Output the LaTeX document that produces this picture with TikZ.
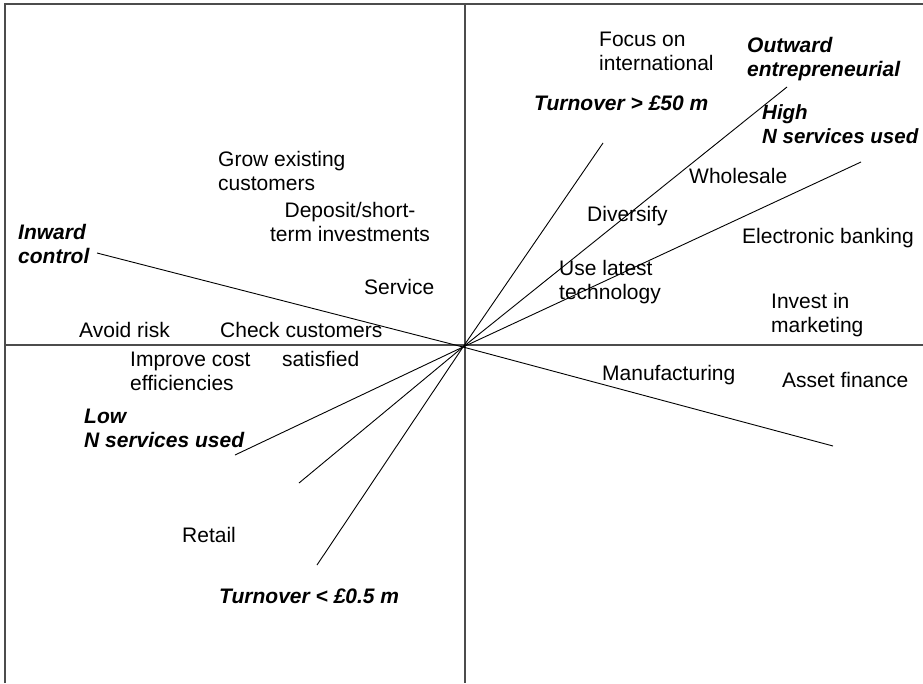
\documentclass[tikz,border=0pt]{standalone}
\usepackage{fontspec}
\setmainfont{Liberation Sans}

\tikzset{
  lbl/.style={anchor=base west, inner sep=0pt, align=left, font=\fontsize{21}{24}\selectfont},
  pole/.style={lbl, font=\fontsize{21}{24}\selectfont\bfseries\itshape},
  axis/.style={draw=black!70, line width=1.4pt},
  ray/.style={draw=black, line width=0.9pt}
}

\begin{document}
\begin{tikzpicture}[x=1pt,y=1pt,yscale=-1]
\useasboundingbox (0,0) rectangle (923,683);

% Frame and axes
\draw[axis] (5,683) -- (5,4) -- (923,4);
\draw[axis] (465,4) -- (465,683);
\draw[axis] (5,345) -- (923,345);

% Origin and ray ends
\coordinate (o) at (463,347);
\coordinate (inw) at (97,253);
\coordinate (manu) at (833,446);
\coordinate (tohi) at (603,143);
\coordinate (outw) at (787,87);
\coordinate (nhi) at (861,162);
\coordinate (nlo) at (235,455);
\coordinate (mid) at (299,483);
\coordinate (tolo) at (317,565);

% Rays
\draw[ray] (o) -- (inw);
\draw[ray] (o) -- (manu);
\draw[ray] (o) -- (tohi);
\draw[ray] (o) -- (outw);
\draw[ray] (o) -- (nhi);
\draw[ray] (o) -- (nlo);
\draw[ray] (o) -- (mid);
\draw[ray] (o) -- (tolo);

% Text Nodes (multi-line ones placed at the last baseline)
\node[lbl] (focus) at (599,70) {Focus on\\international};
\node[pole] (outward) at (747,76) {Outward\\entrepreneurial};
\node[pole] (turnhi) at (534,110) {Turnover > £50 m};
\node[pole, font=\fontsize{20.5}{24}\selectfont\bfseries\itshape] (serhi) at (762,143) {High\\N services used};
\node[lbl] (whole) at (689,183) {Wholesale};
\node[lbl] (divers) at (587,221) {Diversify};
\node[lbl] (ebank) at (742,243) {Electronic banking};
\node[lbl] (latest) at (559,299) {Use latest\\technology};
\node[lbl] (invest) at (771,332) {Invest in\\marketing};

\node[lbl] (grow) at (218,190) {Grow existing\\customers};
\node[lbl, anchor=base, align=center] (deposit) at (350,241) {Deposit/short-\\term investments};
\node[pole] (inward) at (18,263) {Inward\\control};
\node[lbl] (service) at (364,294) {Service};
\node[lbl] (avoid) at (79,337) {Avoid risk};
\node[lbl] (check) at (220,337) {Check customers};
\node[lbl] (satis) at (282,366) {satisfied};
\node[lbl] (improve) at (130,390) {Improve cost\\efficiencies};
\node[pole] (serlo) at (84,447) {Low\\N services used};
\node[lbl] (retail) at (182,542) {Retail};
\node[pole] (turnlo) at (219,603) {Turnover < £0.5 m};

\node[lbl] (manuf) at (602,380) {Manufacturing};
\node[lbl] (asset) at (782,387) {Asset finance};

\end{tikzpicture}
\end{document}
